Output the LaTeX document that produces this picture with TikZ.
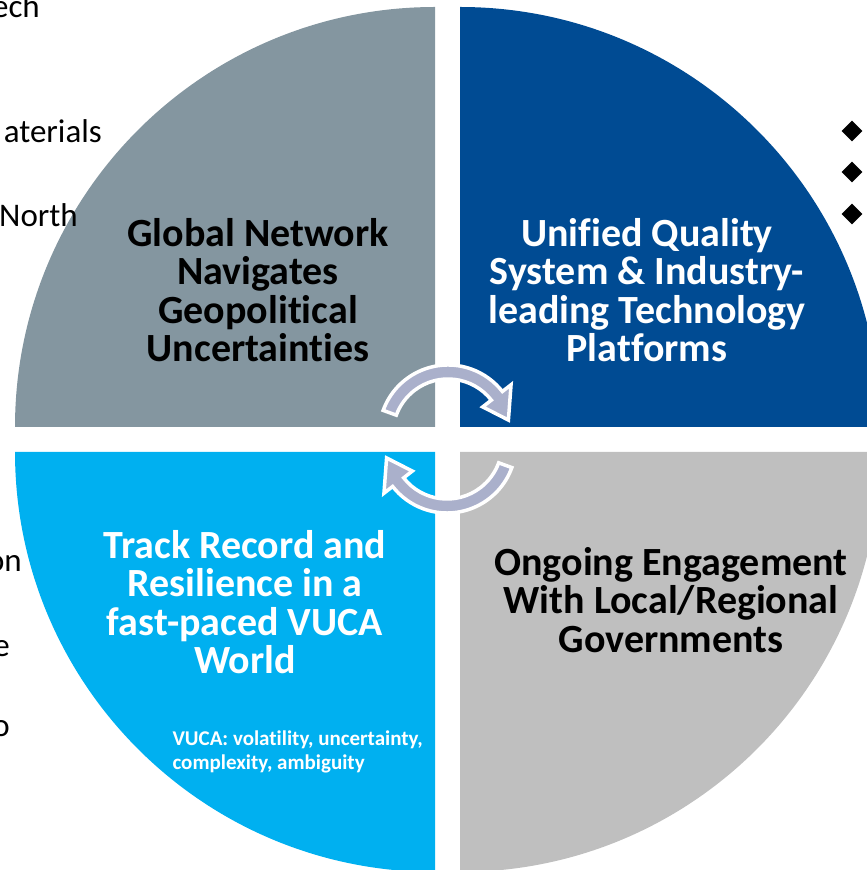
\documentclass[tikz,border=0pt]{standalone}
\usepackage{fontspec}
\setmainfont[Ligatures=NoCommon]{Carlito}
\usetikzlibrary{shapes.geometric}
\definecolor{netgray}{RGB}{132,150,160}
\definecolor{qualblue}{RGB}{0,75,147}
\definecolor{trackblue}{RGB}{0,176,240}
\definecolor{govgray}{RGB}{191,191,191}
\definecolor{cyclegray}{RGB}{170,176,203}

\begin{document}
\begin{tikzpicture}[
    x=1pt, y=1pt,
    title/.style={font=\fontsize{40}{38.5}\selectfont\bfseries, align=center},
    note/.style={font=\fontsize{21}{24}\selectfont\bfseries, align=left, text=white, anchor=west},
    frag/.style={font=\fontsize{33}{40}\selectfont, anchor=base east, inner sep=0pt},
    bullet/.style={diamond, fill=black, minimum width=21pt, minimum height=21pt, inner sep=0pt},
    cycle arrow/.style={fill=cyclegray, draw=white, line width=3.5pt, line join=miter}
]
    \useasboundingbox (0,0) rectangle (867,870);
    \clip (0,0) rectangle (867,870);

    % four quarters
    \fill[netgray] (435,443) -- (15,443) arc[start angle=180, end angle=90, radius=420] -- cycle;
    \fill[qualblue] (460,443) -- (460,863) arc[start angle=90, end angle=0, radius=420] -- cycle;
    \fill[trackblue] (435,418) -- (15,418) arc[start angle=180, end angle=270, radius=420] -- cycle;
    \fill[govgray] (460,418) -- (880,418) arc[start angle=0, end angle=-90, radius=420] -- cycle;

    % circular arrows
    \begin{scope}[shift={(448,436)}]
        \draw[cycle arrow] (160:69) arc[start angle=160, end angle=38, radius=69] -- (38:80) -- (13:62) -- (38:44) -- (38:55) arc[start angle=38, end angle=160, radius=55] -- cycle;
    \end{scope}
    \begin{scope}[shift={(447,426)}]
        \draw[cycle arrow] (-20:69) arc[start angle=-20, end angle=-142, radius=69] -- (-142:80) -- (-167:62) -- (-142:44) -- (-142:55) arc[start angle=-142, end angle=-20, radius=55] -- cycle;
    \end{scope}

    % titles
    \node[title] (net) at (258,580) {Global Network\\Navigates\\Geopolitical\\Uncertainties};
    \node[title, text=white] (qual) at (647,580) {Unified Quality\\System \& Industry-\\leading Technology\\Platforms};
    \node[title, text=white] (track) at (245,268) {Track Record and\\Resilience in a\\fast-paced VUCA\\World};
    \node[title] (gov) at (671,270) {Ongoing Engagement\\With Local/Regional\\Governments};
    \node[note] (vuca) at (169,118) {VUCA: volatility, uncertainty,\\complexity, ambiguity};

    % cut-off text at the left
    \node[frag] (f1) at (40,852) {ech};
    \node[frag] (f2) at (102,727) {aterials};
    \node[frag] (f3) at (78,643) {North};
    \node[frag] (f4) at (22,298) {on};
    \node[frag] (f5) at (10,213) {e};
    \node[frag] (f6) at (10,133) {o};

    % bullets at the right
    \node[bullet] (b1) at (852,739) {};
    \node[bullet] (b2) at (852,698) {};
    \node[bullet] (b3) at (852,656) {};
\end{tikzpicture}
\end{document}
